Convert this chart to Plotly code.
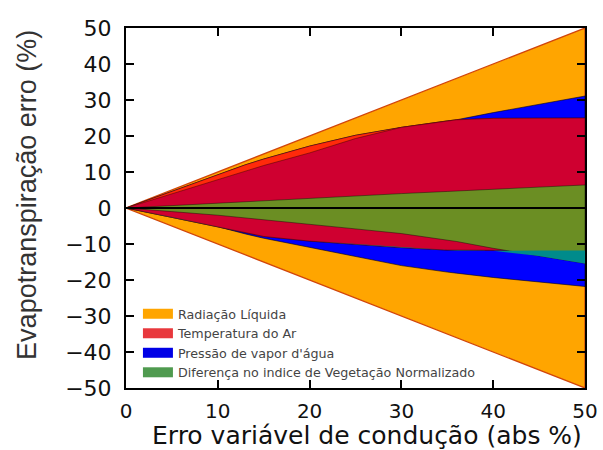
import numpy as np
import plotly.graph_objects as go

# ---------------- data ----------------
x_err = [0, 5, 10, 13, 15, 20, 25, 30, 35, 36, 40, 45, 50]

# outer envelope (Radiação Líquida): +/- this
rad_env = [0, 5, 10, 13, 15, 20, 25, 30, 35, 36, 40, 45, 50]

# positive side boundaries
vap_pos = [0, 4.6, 9.2, 12.0, 13.6, 17.2, 20.2, 22.4, 24.2, 24.5, 26.5, 28.8, 31.1]
tair_pos_outer = [0, 4.6, 9.2, 12.0, 13.6, 17.2, 20.2, 22.4, 24.2, 24.5, 24.9, 25.0, 25.0]
tair_pos = [0, 3.9, 7.9, 10.3, 11.8, 15.3, 19.3, 22.4, 24.2, 24.5, 24.9, 25.0, 25.0]
ndvi_pos = [0, 0.7, 1.4, 1.8, 2.0, 2.7, 3.4, 4.0, 4.6, 4.7, 5.2, 5.8, 6.4]

# negative side boundaries
ndvi_neg = [0, -1.0, -2.0, -2.6, -3.2, -4.5, -5.8, -7.1, -8.9, -9.3, -11.2, -13.3, -15.4]
tair_neg = [0, -2.6, -5.2, -6.8, -7.9, -9.2, -10.1, -11.0, -11.7, -11.8, -11.9, -11.8, -11.8]
vap_neg = [0, -2.6, -5.2, -7.2, -8.4, -11.0, -13.5, -16.0, -17.8, -18.1, -19.3, -20.6, -21.8]

legend_names = ["Radiação Líquida", "Temperatura do Ar",
                "Pressão de vapor d'água",
                "Diferença no indice de Vegetação Normalizado"]
legend_fill = ["#ffa500", "#e8383d", "#0000e6", "#4f9a4f"]

x_ticks = [0, 10, 20, 30, 40, 50]
y_ticks = [-50, -40, -30, -20, -10, 0, 10, 20, 30, 40, 50]

x_title = "Erro variável de condução (abs %)"
y_title = "Evapotranspiração erro (%)"

# ---------------- figure ----------------
x = np.array(x_err, dtype=float)


def band(top, bottom):
    top = np.asarray(top, dtype=float)
    bottom = np.asarray(bottom, dtype=float)
    xs = np.concatenate([x, x[::-1]])
    ys = np.concatenate([top, bottom[::-1]])
    return xs, ys


fig = go.Figure()


def add_band(top, bottom, fill, line, width):
    xs, ys = band(top, bottom)
    fig.add_trace(go.Scatter(x=xs, y=ys, mode="lines", fill="toself",
                             fillcolor=fill, line=dict(color=line, width=width),
                             showlegend=False, hoverinfo="skip"))


rad = np.array(rad_env, dtype=float)
add_band(rad, -rad, "#ffa500", "#d2450a", 1.3)
add_band(vap_pos, vap_neg, "#0000ff", "rgba(0,0,0,0.7)", 0.8)
add_band(tair_pos_outer, tair_neg, "#ff2a0a", "rgba(60,0,0,0.6)", 0.8)
add_band(tair_pos, tair_neg, "#cf0030", "rgba(60,0,0,0.6)", 0.8)
add_band(ndvi_pos, ndvi_neg, "#6b8e23", "rgba(0,0,0,0.5)", 0.8)
tn = np.array(tair_neg, dtype=float)
add_band(tn, np.minimum(np.array(ndvi_neg, dtype=float), tn), "#008b8b",
         "rgba(0,0,0,0)", 0)

# zero line
fig.add_trace(go.Scatter(x=x, y=np.zeros_like(x), mode="lines",
                         line=dict(color="black", width=2.2),
                         showlegend=False, hoverinfo="skip"))

# legend entries
for nm, fc in zip(legend_names, legend_fill):
    fig.add_trace(go.Scatter(x=[None], y=[None], mode="lines",
                             line=dict(color=fc, width=10),
                             name=nm, showlegend=True))

axis_common = dict(showline=True, linecolor="black", linewidth=2, mirror="ticks",
                   ticks="inside", ticklen=8, tickwidth=1.5, tickcolor="black",
                   showgrid=False, zeroline=False, automargin=False)

fig.update_xaxes(range=[0, 50], tickmode="array", tickvals=x_ticks,
                 ticklabelstandoff=4,
                 tickfont=dict(family="DejaVu Sans", size=20, color="#111"),
                 **axis_common)
fig.update_yaxes(range=[-50, 50], tickmode="array", tickvals=y_ticks,
                 ticklabelstandoff=8,
                 tickfont=dict(family="DejaVu Sans", size=22, color="#111"),
                 **axis_common)

fig.add_annotation(text=x_title, xref="paper", yref="paper",
                   x=0.525, y=-0.1333, xanchor="center", yanchor="middle",
                   showarrow=False,
                   font=dict(family="DejaVu Sans", size=25, color="#111"))
fig.add_annotation(text=y_title, xref="paper", yref="paper",
                   x=-0.216, y=0.536, xanchor="center", yanchor="middle",
                   textangle=-90, showarrow=False,
                   font=dict(family="Liberation Sans", size=27, color="#333"))

fig.update_layout(
    width=603, height=450,
    margin=dict(l=126, r=18, t=28, b=62),
    paper_bgcolor="white", plot_bgcolor="white",
    legend=dict(x=0.026, y=0.0, xanchor="left", yanchor="bottom",
                bgcolor="rgba(255,255,255,0)", borderwidth=0,
                font=dict(family="DejaVu Sans", size=12.7, color="#444"),
                tracegroupgap=0),
)

fig.write_html("out.html")
